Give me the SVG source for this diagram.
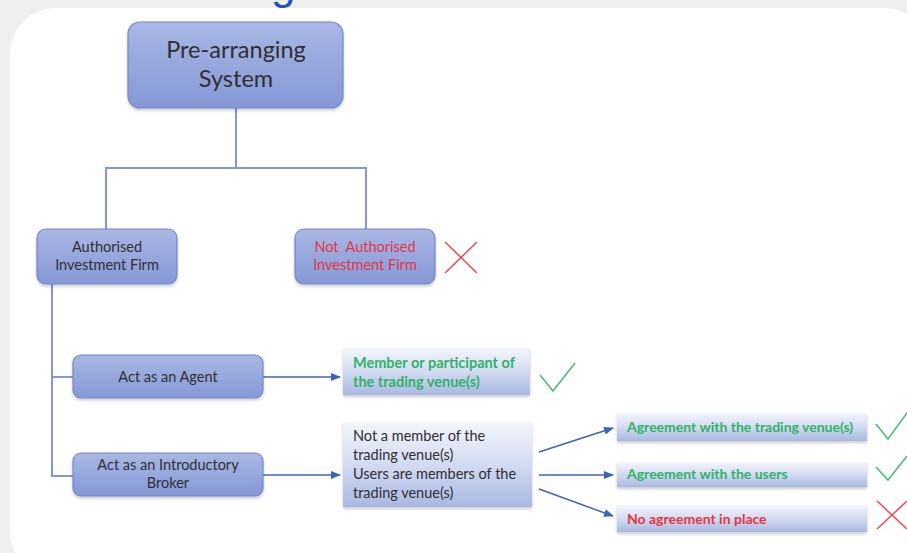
<svg xmlns="http://www.w3.org/2000/svg" width="907" height="553" viewBox="0 0 907 553">
  <defs>
    <linearGradient id="boxGrad" x1="0" y1="0" x2="0" y2="1">
      <stop offset="0" stop-color="#a9b7e4"/>
      <stop offset="1" stop-color="#8598d6"/>
    </linearGradient>
    <linearGradient id="lightGrad" x1="0" y1="0" x2="0" y2="1">
      <stop offset="0" stop-color="#f4f6fc"/>
      <stop offset="0.5" stop-color="#d3dbf1"/>
      <stop offset="1" stop-color="#a9b8e2"/>
    </linearGradient>
    <filter id="shadow" x="-10%" y="-10%" width="120%" height="130%">
      <feDropShadow dx="0" dy="2" stdDeviation="1.5" flood-color="#000" flood-opacity="0.2"/>
    </filter>
    <marker id="arrow" markerWidth="10" markerHeight="8" refX="9" refY="4" orient="auto" markerUnits="userSpaceOnUse">
      <path d="M0,0 L10,4 L0,8 Z" fill="#3d63b8"/>
    </marker>
  </defs>
  <style>
    .box { fill: url(#boxGrad); stroke: #7487c9; stroke-width: 1.2; filter: url(#shadow); }
    .lbox { fill: url(#lightGrad); filter: url(#shadow); }
    .t { font-family: Lato, "Liberation Sans", sans-serif; font-size: 14.5px; fill: #2f2f33; text-anchor: middle; }
    .tl { font-family: Lato, "Liberation Sans", sans-serif; font-size: 14.5px; fill: #2f2f33; }
    .green { font-family: Lato, "Liberation Sans", sans-serif; font-size: 14.5px; fill: #2fb36a; font-weight: bold; }
    .sm { font-size: 14px; }
    .red { fill: #e8333f; }
    .conn { stroke: #8497cf; stroke-width: 2; fill: none; }
    .arr { stroke: #3d63b8; stroke-width: 1.5; fill: none; marker-end: url(#arrow); }
    .ok { stroke: #4cb877; stroke-width: 1.5; fill: none; }
    .no { stroke: #ee4a50; stroke-width: 1.5; fill: none; }
  </style>

  <rect x="0" y="0" width="907" height="553" fill="#efefef"/>
  <text x="271" y="-1" font-family="Liberation Sans, sans-serif" font-size="44" fill="#2350c0">g</text>
  <rect x="10" y="8" width="920" height="570" rx="46" ry="46" fill="#ffffff"/>

  <g id="connectors">
    <path class="conn" d="M236,108 V168 M106,168 H366 M106,167 V230 M366,167 V230"/>
    <path class="conn" d="M52,284 V476 H73 M51,377 H73"/>
    <path class="arr" d="M263,377 H340"/>
    <path class="arr" d="M263,475 H340"/>
    <path class="arr" d="M539,452 L613,428"/>
    <path class="arr" d="M539,475 L613,475"/>
    <path class="arr" d="M539,489 L613,516"/>
  </g>

  <g id="pre-arranging">
    <rect class="box" x="128" y="22" width="215" height="86" rx="12"/>
    <text class="t" x="236" y="58" style="font-size:23.5px">Pre-arranging</text>
    <text class="t" x="236" y="87" style="font-size:23.5px">System</text>
  </g>

  <g id="authorised">
    <rect class="box" x="37" y="229" width="140" height="55" rx="9"/>
    <text class="t" x="107" y="252">Authorised</text>
    <text class="t" x="107" y="270">Investment Firm</text>
  </g>

  <g id="not-authorised">
    <rect class="box" x="295" y="229" width="140" height="55" rx="9"/>
    <text class="t red" x="365" y="252" xml:space="preserve">Not  Authorised</text>
    <text class="t red" x="365" y="270">Investment Firm</text>
    <path class="no" d="M445,242 L477,273 M477,242 L445,273"/>
  </g>

  <g id="agent">
    <rect class="box" x="73" y="355" width="190" height="43" rx="8"/>
    <text class="t" x="168" y="382">Act as an Agent</text>
  </g>

  <g id="broker">
    <rect class="box" x="73" y="453" width="190" height="43" rx="8"/>
    <text class="t" x="168" y="470">Act as an Introductory</text>
    <text class="t" x="168" y="488">Broker</text>
  </g>

  <g id="member">
    <rect class="lbox" x="343" y="348" width="187" height="47"/>
    <text class="green" x="353" y="368">Member or participant of</text>
    <text class="green" x="353" y="387">the trading venue(s)</text>
    <path class="ok" d="M540,375 L553,391 L575,363"/>
  </g>

  <g id="not-member">
    <rect class="lbox" x="343" y="422" width="189" height="85"/>
    <text class="tl" x="353" y="441">Not a member of the</text>
    <text class="tl" x="353" y="460">trading venue(s)</text>
    <text class="tl" x="353" y="479">Users are members of the</text>
    <text class="tl" x="353" y="498">trading venue(s)</text>
  </g>

  <g id="agreement-venue">
    <rect class="lbox" x="617" y="413" width="250" height="28"/>
    <text class="green sm" x="627" y="432">Agreement with the trading venue(s)</text>
    <path class="ok" d="M876,424 L888,439 L907,413"/>
  </g>

  <g id="agreement-users">
    <rect class="lbox" x="617" y="462" width="250" height="25"/>
    <text class="green sm" x="627" y="479">Agreement with the users</text>
    <path class="ok" d="M876,467 L888,480 L907,456"/>
  </g>

  <g id="no-agreement">
    <rect class="lbox" x="617" y="505" width="250" height="27"/>
    <text class="green sm red" x="627" y="524">No agreement in place</text>
    <path class="no" d="M877,501 L907,529 M907,501 L877,529"/>
  </g>
</svg>
